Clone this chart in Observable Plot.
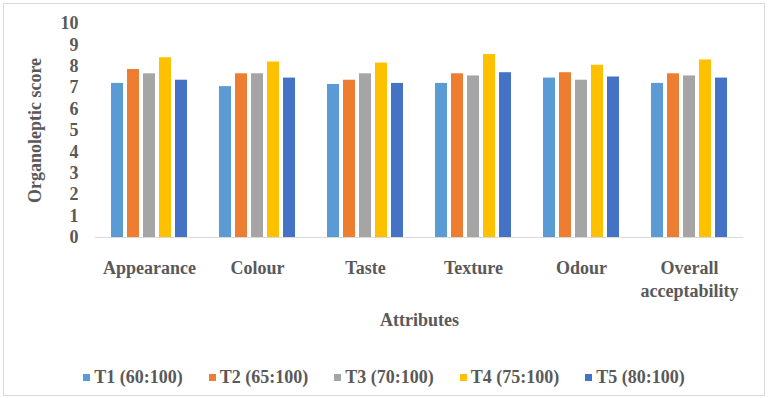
<!DOCTYPE html>
<html>
<head>
<meta charset="utf-8">
<script src="https://cdn.jsdelivr.net/npm/d3@7"></script>
<script src="https://cdn.jsdelivr.net/npm/@observablehq/plot@0.6"></script>
<style>
  html, body { margin: 0; padding: 0; background: #fff; }
  #wrap { position: relative; width: 768px; height: 398px; overflow: hidden; }
  #border { position: absolute; left: 3px; top: 3px; width: 762px; height: 393px; box-sizing: border-box; border: 1px solid #d9d9d9; }
  #chart { position: absolute; left: 0; top: 0; }
  #legend { position: absolute; left: 0; top: 367px; width: 768px; display: flex; justify-content: center; gap: 26px;
            font-family: "Liberation Serif", "Times New Roman", serif; font-weight: bold; font-size: 18px; color: #595959; }
  .item { display: flex; align-items: center; gap: 4px; }
  .sw { width: 7px; height: 7px; display: inline-block; }
</style>
</head>
<body>
<div id="wrap">
  <div id="border"></div>
  <div id="chart"></div>
  <div id="legend"></div>
</div>
<script>
const categories = ["Appearance", "Colour", "Taste", "Texture", "Odour", "Overall acceptability"];
const series = ["T1 (60:100)", "T2 (65:100)", "T3 (70:100)", "T4 (75:100)", "T5 (80:100)"];
const t1 = [7.2, 7.05, 7.15, 7.2, 7.45, 7.2];
const t2 = [7.85, 7.65, 7.35, 7.65, 7.7, 7.65];
const t3 = [7.65, 7.65, 7.65, 7.55, 7.35, 7.55];
const t4 = [8.4, 8.2, 8.15, 8.55, 8.05, 8.3];
const t5 = [7.35, 7.45, 7.2, 7.7, 7.5, 7.45];
const yTicks = [0, 1, 2, 3, 4, 5, 6, 7, 8, 9, 10];
const colors = ["#5B9BD5", "#ED7D31", "#A5A5A5", "#FFC000", "#4472C4"];

const seriesValues = [t1, t2, t3, t4, t5];
const data = categories.flatMap((c, i) =>
  series.map((s, j) => ({category: c, series: s, value: seriesValues[j][i]}))
);

const chart = Plot.plot({
  width: 768,
  height: 340,
  marginLeft: 95,
  marginRight: 25,
  marginTop: 23,
  marginBottom: 103,
  style: {fontFamily: "'Liberation Serif', 'Times New Roman', serif", fontSize: "18px", fontWeight: "bold", color: "#595959", background: "transparent"},
  facet: {data, x: "category"},
  fx: {domain: categories, padding: 0},
  x: {domain: series, axis: null, paddingInner: 0.25, paddingOuter: 0.92},
  y: {domain: [0, 10], ticks: yTicks, tickSize: 0, tickPadding: 17, label: "Organoleptic score", labelAnchor: "center", labelOffset: 67, labelArrow: false},
  color: {domain: series, range: colors},
  marks: [
    Plot.barY(data, {x: "series", y: "value", fill: "series"}),
    Plot.ruleY([0], {stroke: "#d9d9d9", strokeWidth: 1.2}),
    Plot.axisFx({
      anchor: "bottom", tickSize: 0, tickPadding: 21, lineHeight: 1.25,
      label: "Attributes", labelAnchor: "center", labelOffset: 88, labelArrow: false,
      tickFormat: d => d === "Overall acceptability" ? "Overall\nacceptability" : d
    })
  ]
});
document.getElementById("chart").appendChild(chart);

const legend = document.getElementById("legend");
series.forEach((s, i) => {
  const item = document.createElement("div");
  item.className = "item";
  const sw = document.createElement("span");
  sw.className = "sw";
  sw.style.background = colors[i];
  const lab = document.createElement("span");
  lab.textContent = s;
  item.appendChild(sw);
  item.appendChild(lab);
  legend.appendChild(item);
});
</script>
</body>
</html>
